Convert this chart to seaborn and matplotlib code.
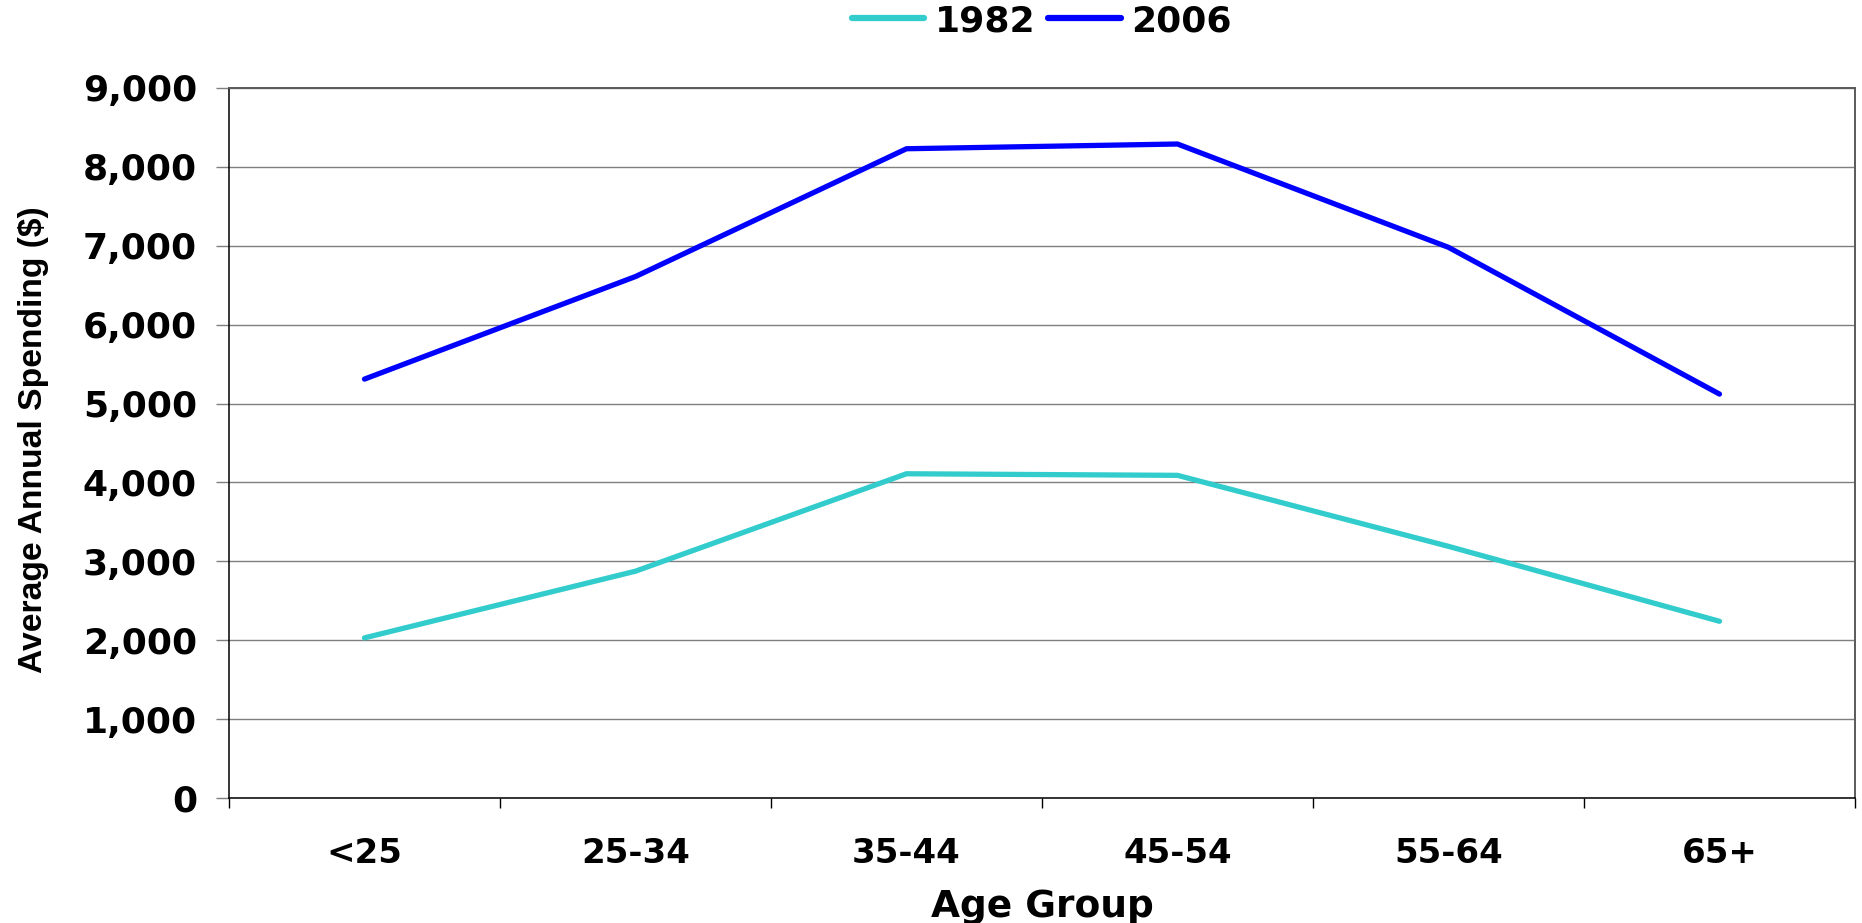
import matplotlib
matplotlib.use("Agg")
import matplotlib.pyplot as plt
from matplotlib.ticker import FuncFormatter, FixedLocator, MultipleLocator
import seaborn as sns
import pandas as pd

# Average annual spending by age group of household head
age_groups = ["<25", "25-34", "35-44", "45-54", "55-64", "65+"]
spend_1982 = [2030, 2875, 4110, 4090, 3190, 2240]
spend_2006 = [5310, 6610, 8230, 8290, 6980, 5120]
years = ["1982", "2006"]
line_colors = {"1982": "#33CCCC", "2006": "#0000FF"}

df = pd.DataFrame({
    "Age Group": age_groups * 2,
    "Spending": spend_1982 + spend_2006,
    "Year": [years[0]] * len(age_groups) + [years[1]] * len(age_groups),
})

sns.set_theme(style="white")
plt.rcParams["font.family"] = ["DejaVu Sans"]
plt.rcParams["font.weight"] = "bold"
plt.rcParams["text.color"] = "black"
plt.rcParams["axes.labelcolor"] = "black"
plt.rcParams["xtick.color"] = "black"
plt.rcParams["ytick.color"] = "black"

fig, ax = plt.subplots(figsize=(18.62, 9.23), dpi=100)
fig.subplots_adjust(left=229 / 1862, right=1855 / 1862,
                    top=1 - 88 / 923, bottom=1 - 798 / 923)

sns.lineplot(data=df, x="Age Group", y="Spending", hue="Year",
             palette=line_colors, sort=False, linewidth=3.8,
             solid_capstyle="round", ax=ax)

ax.set_xlim(-0.5, len(age_groups) - 0.5)
ax.set_ylim(0, 9000)

# y axis: gridlines every 1,000 with thousands separators
ax.yaxis.set_major_locator(MultipleLocator(1000))
ax.yaxis.set_major_formatter(FuncFormatter(lambda v, p: f"{int(v):,}"))
ax.grid(axis="y", color="#7f7f7f", linewidth=1.0)
ax.tick_params(axis="y", which="major", left=True, length=9.5, width=1.0,
               color="#7f7f7f", labelcolor="black", labelsize=26, pad=13.5)

# x axis: labels centred on categories, tick marks between them
ax.xaxis.set_minor_locator(FixedLocator([i - 0.5 for i in range(len(age_groups) + 1)]))
ax.tick_params(axis="x", which="major", bottom=False, length=0,
               labelsize=24.5, pad=28)
ax.tick_params(axis="x", which="minor", bottom=True, direction="out",
               length=7.5, width=1.0, color="black")

for lab in ax.get_xticklabels() + ax.get_yticklabels():
    lab.set_fontweight("bold")

ax.set_xlabel("Age Group", fontsize=27, fontweight="bold")
ax.xaxis.set_label_coords(0.5, -(917 - 798) / 710)
ax.xaxis.label.set_verticalalignment("baseline")
ax.set_ylabel("Average Annual Spending ($)", fontsize=24.2, fontweight="bold",
              family=["Liberation Sans", "DejaVu Sans"])
ax.yaxis.set_label_coords((49 - 229) / 1626, 0.505)

for side in ["left", "bottom"]:
    ax.spines[side].set_color("black")
    ax.spines[side].set_linewidth(1.1)
for side in ["top", "right"]:
    ax.spines[side].set_visible(True)
    ax.spines[side].set_color("#5a5a5a")
    ax.spines[side].set_linewidth(1.4)

leg = ax.legend(loc="center", bbox_to_anchor=(1042 / 1862, 1 - 21 / 923),
                bbox_transform=fig.transFigure, ncol=2, frameon=False,
                fontsize=26, handlelength=2.0, handletextpad=0.3,
                columnspacing=0.35, borderaxespad=0.0, borderpad=0.0)
for t in leg.get_texts():
    t.set_fontweight("bold")
for h in leg.get_lines():
    h.set_linewidth(4.5)

fig.savefig("out.png", dpi=100, facecolor="white")
